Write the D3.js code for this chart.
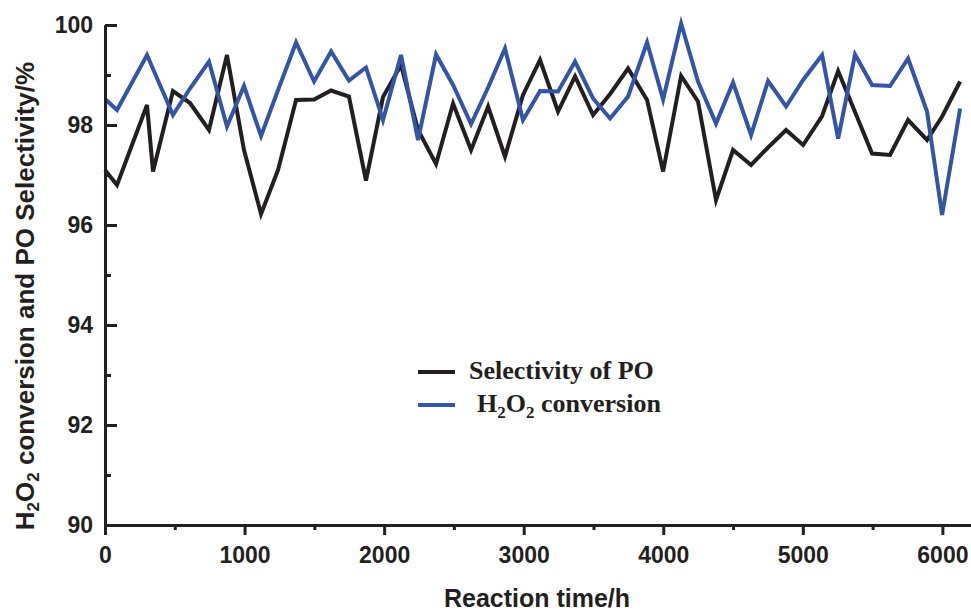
<!DOCTYPE html>
<html>
<head>
<meta charset="utf-8">
<script src="https://cdn.jsdelivr.net/npm/d3@7"></script>
<style>
    body { margin: 0; background: #fff; }
    svg { display: block; }
</style>
</head>
<body>
<div id="chart"></div>
<script>
// reaction time (h) and values (%)
const hoursPO = [0, 86, 301, 344, 487, 609, 745, 874, 996, 1118, 1240, 1369, 1498, 1620, 1748, 1870, 1992,
    2121, 2243, 2372, 2494, 2623, 2745, 2866, 2995, 3117, 3246, 3368, 3497, 3619, 3748, 3884, 3999, 4128,
    4249, 4378, 4500, 4629, 4751, 4880, 5002, 5138, 5253, 5374, 5496, 5625, 5754, 5890, 5998, 6127];
const selectivityPO = [97.1, 96.8, 98.4, 97.07, 98.68, 98.44, 97.9, 99.4, 97.5, 96.22, 97.1, 98.5, 98.51, 98.69,
    98.57, 96.89, 98.56, 99.2, 97.9, 97.22, 98.43, 97.5, 98.37, 97.37, 98.6, 99.3, 98.27, 98.97, 98.2, 98.62,
    99.13, 98.5, 97.07, 98.98, 98.47, 96.5, 97.5, 97.2, 97.55, 97.9, 97.6, 98.18, 99.08, 98.26, 97.43, 97.4,
    98.1, 97.7, 98.17, 98.87];

const hoursH2O2 = [0, 86, 301, 487, 609, 745, 874, 996, 1118, 1240, 1369, 1498, 1620, 1748, 1870, 1992,
    2121, 2243, 2372, 2494, 2623, 2745, 2866, 2995, 3117, 3246, 3368, 3497, 3619, 3748, 3884, 3999, 4128,
    4249, 4378, 4500, 4629, 4751, 4880, 5002, 5138, 5253, 5374, 5496, 5625, 5754, 5890, 5998, 6127];
const conversionH2O2 = [98.52, 98.3, 99.4, 98.2, 98.73, 99.27, 97.97, 98.78, 97.78, 98.7, 99.65, 98.87, 99.47,
    98.89, 99.15, 98.1, 99.4, 97.7, 99.41, 98.8, 98.02, 98.75, 99.53, 98.1, 98.68, 98.67, 99.27, 98.53, 98.13,
    98.57, 99.65, 98.51, 100.03, 98.87, 98.03, 98.85, 97.8, 98.88, 98.37, 98.9, 99.4, 97.73, 99.41, 98.8,
    98.78, 99.33, 98.27, 96.2, 98.33];

const xMajorTicks = [0, 1000, 2000, 3000, 4000, 5000, 6000];
const xMinorTicks = [500, 1500, 2500, 3500, 4500, 5500];
const yMajorTicks = [90, 92, 94, 96, 98, 100];
const yMinorTicks = [91, 93, 95, 97, 99];

const width = 971,
    height = 614,
    margin = { top: 25, right: 0, bottom: 89, left: 105 },
    ink = '#231f20',
    blue = '#3454a6',
    tickFont = '"Liberation Sans", Arial, sans-serif',
    legendFont = '"Liberation Serif", "Times New Roman", serif';

const svg = d3.select('#chart')
    .append('svg')
    .attr('width', width)
    .attr('height', height);

const x = d3.scaleLinear()
    .domain([0, 6205])
    .range([margin.left, width - margin.right]);

const y = d3.scaleLinear()
    .domain([90, 100])
    .range([height - margin.bottom, margin.top]);

// Lines
const line = d3.line()
    .x(d => x(d[0]))
    .y(d => y(d[1]));

svg.append('path')
    .datum(d3.zip(hoursPO, selectivityPO))
    .attr('d', line)
    .attr('fill', 'none')
    .attr('stroke', ink)
    .attr('stroke-width', 4);

svg.append('path')
    .datum(d3.zip(hoursH2O2, conversionH2O2))
    .attr('d', line)
    .attr('fill', 'none')
    .attr('stroke', blue)
    .attr('stroke-width', 4);

function styleAxis(g) {
    g.select('.domain').attr('stroke', ink).attr('stroke-width', 3);
    g.selectAll('.tick line').attr('stroke', ink).attr('stroke-width', 3);
    g.selectAll('.tick text')
        .attr('fill', ink)
        .style('font-family', tickFont)
        .style('font-size', '23px')
        .style('font-weight', 'bold');
}

// X axis
svg.append('g')
    .attr('transform', 'translate(0,' + y(90) + ')')
    .call(d3.axisBottom(x).tickValues(xMinorTicks).tickSizeInner(5).tickSizeOuter(0).tickFormat(''))
    .call(styleAxis);

svg.append('g')
    .attr('transform', 'translate(0,' + y(90) + ')')
    .call(d3.axisBottom(x).tickValues(xMajorTicks).tickSizeInner(10).tickSizeOuter(0).tickPadding(12).tickFormat(d3.format('d')))
    .call(styleAxis);

// Y axis (ticks point inward)
svg.append('g')
    .attr('transform', 'translate(' + x(0) + ',0)')
    .call(d3.axisLeft(y).tickValues(yMinorTicks).tickSizeInner(-6).tickSizeOuter(0).tickFormat(''))
    .call(styleAxis);

svg.append('g')
    .attr('transform', 'translate(' + x(0) + ',0)')
    .call(d3.axisLeft(y).tickValues(yMajorTicks).tickSizeInner(-12).tickSizeOuter(0).tickPadding(12).tickFormat(d3.format('d')))
    .call(styleAxis);

// Axis titles
svg.append('text')
    .attr('x', 537)
    .attr('y', 607)
    .attr('text-anchor', 'middle')
    .attr('fill', ink)
    .style('font-family', tickFont)
    .style('font-size', '25px')
    .style('font-weight', 'bold')
    .text('Reaction time/h');

const yTitle = svg.append('text')
    .attr('transform', 'translate(34,296) rotate(-90)')
    .attr('text-anchor', 'middle')
    .attr('fill', ink)
    .style('font-family', tickFont)
    .style('font-size', '26px')
    .style('font-weight', 'bold');
yTitle.append('tspan').text('H');
yTitle.append('tspan').attr('dy', 5).style('font-size', '17px').text('2');
yTitle.append('tspan').attr('dy', -5).text('O');
yTitle.append('tspan').attr('dy', 5).style('font-size', '17px').text('2');
yTitle.append('tspan').attr('dy', -5).text(' conversion and PO Selectivity/%');

// Legend
const legend = svg.append('g')
    .style('font-family', legendFont)
    .style('font-size', '26px')
    .style('font-weight', 'bold');

legend.append('line')
    .attr('x1', 418).attr('x2', 455)
    .attr('y1', 372).attr('y2', 372)
    .attr('stroke', ink).attr('stroke-width', 4);
legend.append('text')
    .attr('x', 469).attr('y', 379)
    .attr('fill', ink)
    .text('Selectivity of PO');

legend.append('line')
    .attr('x1', 418).attr('x2', 455)
    .attr('y1', 405).attr('y2', 405)
    .attr('stroke', blue).attr('stroke-width', 4);
const leg2 = legend.append('text')
    .attr('x', 477).attr('y', 412)
    .attr('fill', ink);
leg2.append('tspan').text('H');
leg2.append('tspan').attr('dy', 6).style('font-size', '17px').text('2');
leg2.append('tspan').attr('dy', -6).text('O');
leg2.append('tspan').attr('dy', 6).style('font-size', '17px').text('2');
leg2.append('tspan').attr('dy', -6).text(' conversion');
</script>
</body>
</html>
